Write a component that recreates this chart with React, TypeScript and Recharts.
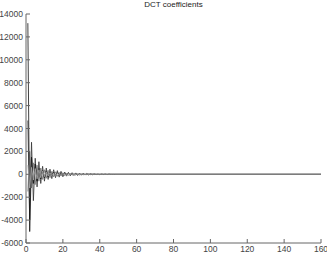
import { LineChart, Line, XAxis, YAxis } from "recharts";

// coefficient index (tail is flat, so only the last point is kept)
const index = [
  1, 2, 3, 4, 5, 6, 7, 8, 9, 10, 11, 12, 13, 14, 15, 16, 17, 18, 19, 20, 21, 22, 23, 24,
  25, 26, 27, 28, 29, 30, 31, 32, 33, 34, 35, 36, 37, 38, 39, 40, 41, 42, 43, 44, 45, 46,
  47, 48, 160,
];

const colA = [
  13200, -5000, 1500, -800, 900, -600, 500, -400, 350, -300, 300, -250, 200, -150, 180, -120,
  140, -100, 120, -80, 100, -60, 80, -60, 60, -40, 60, -40, 40, -20, 40, -20, 20, 0, 20, 0, 10,
  0, 0, 0, 0, 0, 0, 0, 0, 0, 0, 0, 0,
];
const colB = [
  4700, -4000, 2800, -2300, 1400, -1100, 1100, -800, 700, -600, 550, -450, 450, -380, 400,
  -300, 320, -250, 260, -220, 200, -160, 170, -140, 140, -110, 120, -100, 100, -80, 80, -60, 70,
  -60, 50, -40, 40, -30, 30, -30, 30, -20, 20, -20, 20, 0, 0, 0, 0,
];
const colC = [
  -1500, 2000, -1200, 1000, -900, 800, -600, 550, -450, 400, -350, 350, -300, 260, -220,
  220, -180, 170, -150, 140, -120, 110, -100, 90, -80, 80, -70, 60, -60, 50, -50, 40, -40, 40,
  -30, 30, -20, 20, -20, 10, -10, 10, 0, 0, 0, 0, 0, 0, 0,
];
const colD = [
  800, -1200, 600, -500, 500, -400, 400, -300, 300, -200, 220, -160, 160, -140, 120, -110,
  100, -90, 80, -70, 60, -60, 60, -50, 50, -40, 40, -30, 30, -30, 30, -20, 20, -20, 20, -10,
  10, 0, 0, 0, 0, 0, 0, 0, 0, 0, 0, 0, 0,
];

const xTicks = [0, 20, 40, 60, 80, 100, 120, 140, 160];
const yTicks = [-6000, -4000, -2000, 0, 2000, 4000, 6000, 8000, 10000, 12000, 14000];

// drawn in this order, the light one last so the flat tail reads grey
const series = [
  { key: "c", color: "#777777" },
  { key: "b", color: "#333333" },
  { key: "a", color: "#111111" },
  { key: "d", color: "#aaaaaa" },
];

const data = index.map((n, i) => ({
  n,
  a: colA[i],
  b: colB[i],
  c: colC[i],
  d: colD[i],
}));

const tickStyle = { fill: "#444", fontSize: 8.5, fontFamily: "Liberation Sans, Arial, sans-serif" };
const axisColor = "#666";

export default function App() {
  return (
    <div style={{ position: "absolute", left: 0, top: 0, width: 327, height: 255, background: "#fff" }}>
      <div
        style={{
          position: "absolute",
          left: 26,
          width: 295,
          top: 0,
          textAlign: "center",
          fontSize: 8,
          lineHeight: "10px",
          color: "#222",
          fontFamily: "Liberation Sans, Arial, sans-serif",
        }}
      >
        DCT coefficients
      </div>
      <LineChart width={327} height={255} data={data} margin={{ top: 14, right: 6, bottom: 0, left: 0 }}>
        <XAxis
          dataKey="n"
          type="number"
          domain={[0, 160]}
          ticks={xTicks}
          height={12}
          tickSize={-4}
          tickMargin={7}
          tick={tickStyle}
          stroke={axisColor}
          interval={0}
        />
        <XAxis
          xAxisId="top"
          orientation="top"
          dataKey="n"
          type="number"
          domain={[0, 160]}
          ticks={xTicks}
          height={0}
          tickSize={-4}
          tickFormatter={() => ""}
          stroke={axisColor}
          interval={0}
        />
        <YAxis
          type="number"
          domain={[-6000, 14000]}
          ticks={yTicks}
          width={26}
          tickSize={-4}
          tickMargin={7}
          tick={tickStyle}
          stroke={axisColor}
          interval={0}
        />
        <YAxis
          yAxisId="r"
          orientation="right"
          type="number"
          domain={[-6000, 14000]}
          ticks={yTicks}
          width={0}
          tickSize={-4}
          tickFormatter={() => ""}
          stroke={axisColor}
          interval={0}
        />
        {series.map((s) => (
          <Line
            key={s.key}
            dataKey={s.key}
            stroke={s.color}
            strokeWidth={0.8}
            dot={false}
            isAnimationActive={false}
          />
        ))}
      </LineChart>
    </div>
  );
}
